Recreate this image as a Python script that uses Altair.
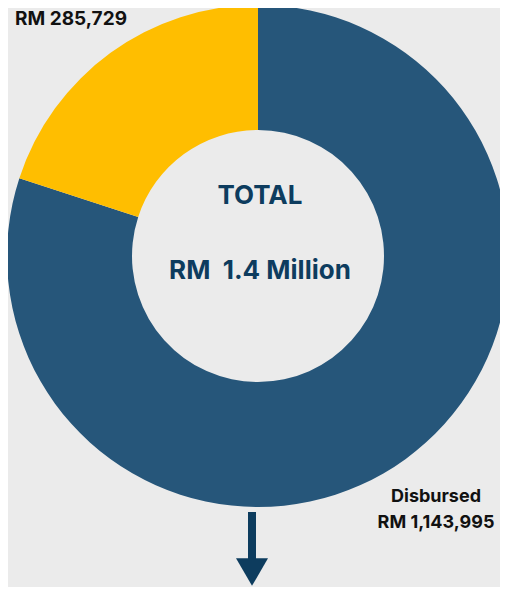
import altair as alt
import pandas as pd

# ---- data ----
categories = ["Disbursed", "Undisbursed"]
amounts = [1143995, 285729]
colors = ["#26567A", "#FFBE00"]
center_lines = ["TOTAL", "RM\u00a0 1.4 Million"]
disbursed_label = ["Disbursed", "RM 1,143,995"]
undisbursed_label = ["RM 285,729"]

df = pd.DataFrame({"category": categories, "amount": amounts, "order": [0, 1]})

W, H = 492, 579
CX, CY = 250, 248
TEXT_BLUE = "#0D3C5E"

arc = alt.Chart(df).mark_arc(innerRadius=126, outerRadius=251).encode(
    theta=alt.Theta("amount:Q", stack=True),
    order=alt.Order("order:Q"),
    color=alt.Color("category:N", scale=alt.Scale(domain=categories, range=colors), legend=None),
    x=alt.value(CX),
    y=alt.value(CY),
)

def text_layer(lines, x, y, size, color, line_h):
    d = pd.DataFrame({"t": ["\n".join(lines)]})
    return alt.Chart(d).mark_text(
        font="Inter", fontWeight="bold", fontSize=size, color=color,
        align="center", baseline="middle", lineBreak="\n", lineHeight=line_h,
    ).encode(text="t:N", x=alt.value(x), y=alt.value(y))

total_t = text_layer([center_lines[0]], 252, 188, 26, TEXT_BLUE, 30)
million_t = text_layer([center_lines[1]], 252, 263, 26, TEXT_BLUE, 30)
disb_t = text_layer(disbursed_label, 428, 489, 18, "#111111", 26)
undisb_t = text_layer(undisbursed_label, 63, 11, 19, "#111111", 26)

shaft = alt.Chart(df.head(1)).mark_rule(color=TEXT_BLUE, strokeWidth=8).encode(
    x=alt.value(244), y=alt.value(504), y2=alt.value(556)
)
head = alt.Chart(df.head(1)).mark_point(
    shape="triangle-down", filled=True, color=TEXT_BLUE, opacity=1, size=1024
).encode(x=alt.value(244), y=alt.value(564))

chart = alt.layer(arc, total_t, million_t, disb_t, undisb_t, shaft, head).properties(
    width=W, height=H, autosize=alt.AutoSizeParams(type="none"), padding=0,
    background="#EBEBEB",
).configure_view(stroke=None)

chart.save("out.html", embed_options={"renderer": "svg", "actions": False})
